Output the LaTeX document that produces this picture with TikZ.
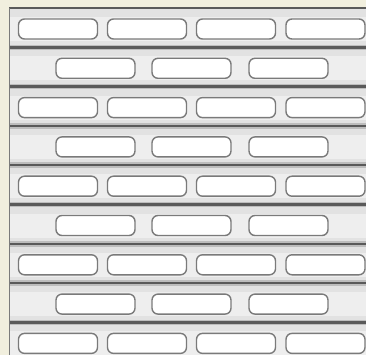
\documentclass[tikz,border=0pt]{standalone}
\usepackage{tikz}
\definecolor{paper}{HTML}{F1EFDE}
\definecolor{panelgrey}{HTML}{E2E2E2}
\definecolor{panellight}{HTML}{EEEEEE}
\definecolor{groovegrey}{HTML}{5A5A5A}
\definecolor{slotedge}{HTML}{7A7A7A}
\tikzset{
  slotbox/.style={
    rectangle,
    draw=slotedge,
    fill=white,
    rounded corners=6pt,
    line width=1.4pt,
    minimum width=79pt,
    minimum height=20pt,
    inner sep=0pt
  },
  groove/.style={
    draw=groovegrey,
    line width=2.6pt
  },
  groovehalo/.style={
    draw=groovegrey!40,
    line width=5.5pt
  }
}

\begin{document}
\begin{tikzpicture}[x=1pt, y=-1pt]
  \useasboundingbox (0,0) rectangle (366,355);
  \clip (0,0) rectangle (366,355);
  \fill[paper] (0,0) rectangle (366,355);
  \fill[panelgrey] (9,8) rectangle (366,355);
  % lighter band through each row
  \foreach \r in {0,...,8} {
    \pgfmathsetmacro{\ytop}{8+39.3*\r+9}
    \pgfmathsetmacro{\ybot}{8+39.3*\r+33}
    \fill[panellight] (9,\ytop) rectangle (366,\ybot);
  }
  \foreach \r in {1,...,8} {
    \pgfmathsetmacro{\ytop}{8+39.3*\r}
    \draw[groovehalo] (9,\ytop) -- (366,\ytop);
    \draw[groove] (9,\ytop) -- (366,\ytop);
  }
  \draw[groovegrey, line width=1.6pt] (9,8) -- (366,8);
  \draw[groovegrey!80, line width=1pt] (9,8) -- (9,355);
  % slots, four in long rows, three in short rows
  \foreach \r in {0,2,4,6,8} {
    \pgfmathsetmacro{\yc}{8+39.3*\r+21}
    \foreach \xc [count=\i] in {58,147,236,325.5}
      \node[slotbox] (s-\r-\i) at (\xc,\yc) {};
  }
  \foreach \r in {1,3,5,7} {
    \pgfmathsetmacro{\yc}{8+39.3*\r+21}
    \foreach \xc [count=\i] in {95.5,191.5,288.5}
      \node[slotbox] (s-\r-\i) at (\xc,\yc) {};
  }
\end{tikzpicture}
\end{document}
